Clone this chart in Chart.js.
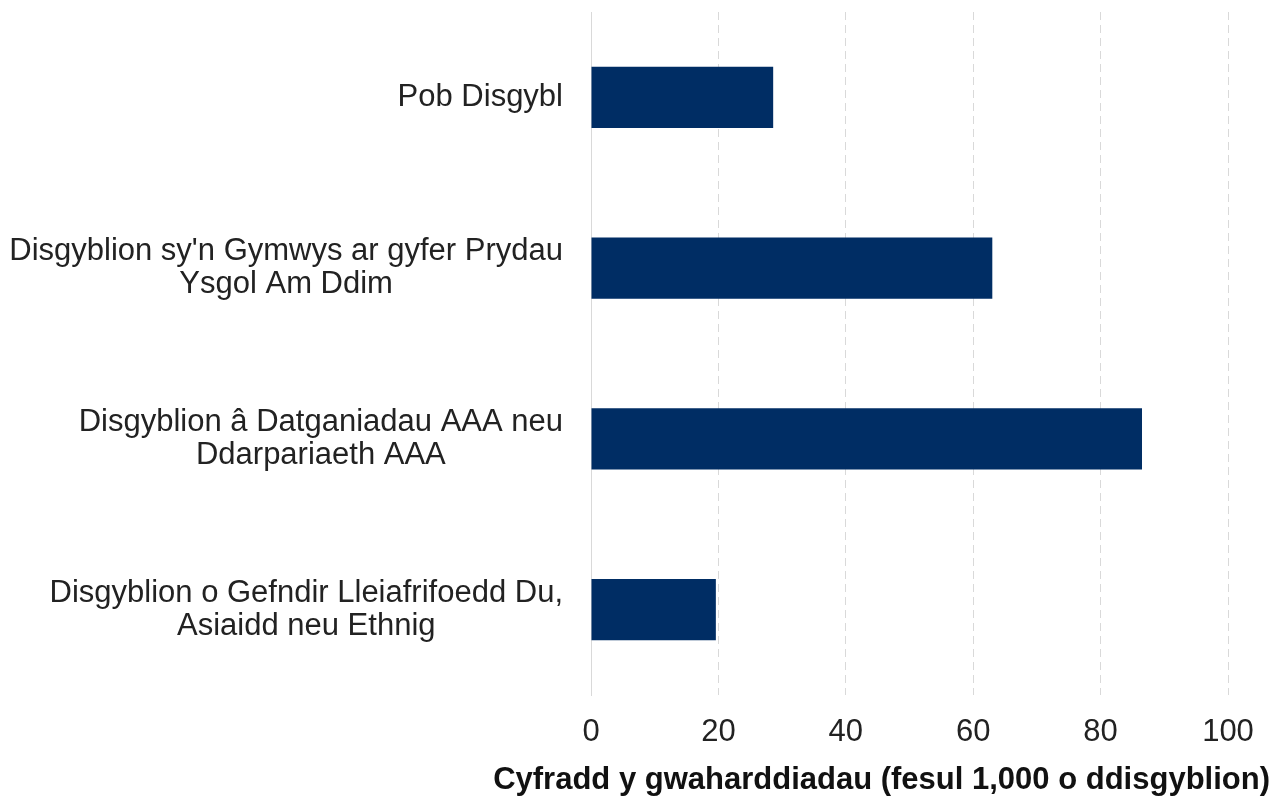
<!DOCTYPE html>
<html>
<head>
<meta charset="utf-8">
<script src="https://cdn.jsdelivr.net/npm/chart.js@4"></script>
<style>
  body { margin: 0; background: #fff; }
  #wrap { width: 1277px; height: 800px; }
</style>
</head>
<body>
<div id="wrap"><canvas id="chart"></canvas></div>
<script>
const categories = [
  ['Pob Disgybl'],
  ["Disgyblion sy'n Gymwys ar gyfer Prydau", 'Ysgol Am Ddim'],
  ['Disgyblion â Datganiadau AAA neu', 'Ddarpariaeth AAA'],
  ['Disgyblion o Gefndir Lleiafrifoedd Du,', 'Asiaidd neu Ethnig']
];
const rates = [28.6, 63.0, 86.5, 19.6];
const xTicks = [0, 20, 40, 60, 80, 100];
const xTitle = 'Cyfradd y gwaharddiadau (fesul 1,000 o ddisgyblion)';

const FONT = '"Liberation Sans", Arial, sans-serif';

// category labels: right-aligned block, lines centred within it
const sideLabels = {
  id: 'sideLabels',
  afterDraw(chart) {
    const ctx = chart.ctx;
    const y = chart.scales.y;
    const area = chart.chartArea;
    ctx.save();
    ctx.font = '31px ' + FONT;
    ctx.fillStyle = '#222';
    ctx.textAlign = 'center';
    ctx.textBaseline = 'middle';
    categories.forEach((lines, i) => {
      const mid = y.getPixelForTick(i);
      const w = Math.max(...lines.map(l => ctx.measureText(l).width));
      const cx = area.left - 28 - w / 2;
      lines.forEach((l, j) => {
        ctx.fillText(l, cx, mid + (j - (lines.length - 1) / 2) * 33);
      });
    });
    ctx.font = 'bold 31px ' + FONT;
    ctx.textAlign = 'right';
    ctx.fillStyle = '#111';
    ctx.fillText(xTitle, chart.width - 7, 780);
    ctx.restore();
  }
};

new Chart(document.getElementById('chart'), {
  type: 'bar',
  data: {
    labels: categories.map(l => l.join(' ')),
    datasets: [{
      data: rates,
      backgroundColor: '#002d64',
      categoryPercentage: 1,
      barPercentage: 0.36
    }]
  },
  options: {
    indexAxis: 'y',
    responsive: true,
    maintainAspectRatio: false,
    animation: false,
    layout: { padding: { top: 12, right: 49, left: 0, bottom: 0 } },
    plugins: { legend: { display: false }, tooltip: { enabled: false } },
    scales: {
      x: {
        min: xTicks[0],
        max: xTicks[xTicks.length - 1],
        afterBuildTicks: s => { s.ticks = xTicks.map(v => ({ value: v })); },
        ticks: { font: { size: 31, family: FONT }, color: '#222', padding: 19 },
        grid: { color: '#d9d9d9', drawTicks: false },
        border: { display: false, dash: [8, 5] },
        afterFit: s => { s.height = 105; }
      },
      y: {
        ticks: { display: false },
        grid: { display: false },
        border: { display: true, color: '#d9d9d9', width: 1 },
        afterFit: s => { s.width = 591; }
      }
    }
  },
  plugins: [sideLabels]
});
</script>
</body>
</html>
